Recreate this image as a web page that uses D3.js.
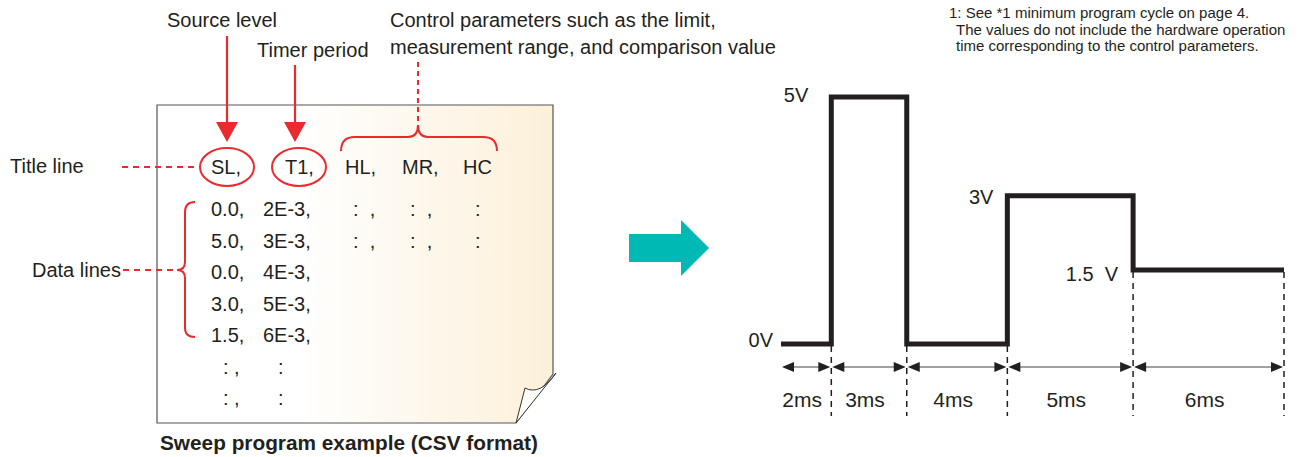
<!DOCTYPE html>
<html>
<head>
<meta charset="utf-8">
<script src="https://cdnjs.cloudflare.com/ajax/libs/d3/7.8.5/d3.min.js"></script>
<style>
  html, body { margin: 0; padding: 0; background: #fff; }
  svg { display: block; font-family: "Liberation Sans", Arial, sans-serif; }
</style>
</head>
<body>
<svg id="my_svg"></svg>
<script>
const width = 1302;
const height = 457;

// sweep program: source level (V) and timer period (ms) for each step
const levels = [0.0, 5.0, 0.0, 3.0, 1.5];
const periods = [2, 3, 4, 5, 6];
const levelLabels = ['0V', '5V', '', '3V', '1.5  V'];
const periodLabels = ['2ms', '3ms', '4ms', '5ms', '6ms'];
const headerCols = ['SL,', 'T1,', 'HL,', 'MR,', 'HC'];
const noteLines = [
  '1: See *1 minimum program cycle on page 4.',
  'The values do not include the hardware operation',
  'time corresponding to the control parameters.'
];

const red = '#ea2a2f';
const ink = '#231f20';

const svg = d3.select('#my_svg')
  .attr('width', width)
  .attr('height', height);

const defs = svg.append('defs');
const grad = defs.append('linearGradient').attr('id', 'paper');
grad.append('stop').attr('offset', '0%').attr('stop-color', '#ffffff');
grad.append('stop').attr('offset', '35%').attr('stop-color', '#ffffff');
grad.append('stop').attr('offset', '100%').attr('stop-color', '#fcf0d9');

// ---------- left: CSV sheet ----------
const left = svg.append('g');

left.append('path')
  .attr('d', 'M157,105 H553 V374 L516,423 H157 Z')
  .attr('fill', 'url(#paper)')
  .attr('stroke', '#555')
  .attr('stroke-width', 1.2);

// curled corner
left.append('path')
  .attr('d', 'M516,423 L525,388 Q540,396 556,373 Z')
  .attr('fill', '#fffdf8')
  .attr('stroke', '#333')
  .attr('stroke-width', 1);

// csv rows built from the data
const rowY = d3.scalePoint()
  .domain(d3.range(7))
  .range([209, 398]);

const fs = 20;
const hdrX = [211, 285, 345, 402, 463];
left.selectAll('text.hdr')
  .data(headerCols)
  .enter().append('text')
  .attr('class', 'hdr')
  .attr('x', (d, i) => hdrX[i])
  .attr('y', 167)
  .attr('dy', '0.35em')
  .attr('font-size', fs)
  .attr('fill', ink)
  .text(d => d);

const rows = levels.map((v, i) => [v.toFixed(1) + ',', periods[i] + 'E-3,']);
rows.forEach((r, i) => {
  left.append('text').attr('x', 211).attr('y', rowY(i)).attr('dy', '0.35em')
    .attr('font-size', fs).attr('fill', ink).text(r[0]);
  left.append('text').attr('x', 263).attr('y', rowY(i)).attr('dy', '0.35em')
    .attr('font-size', fs).attr('fill', ink).text(r[1]);
});
// continuation marks
[0, 1].forEach(i => {
  [[353, ':  ,'], [410, ':  ,'], [475, ':']].forEach(c => {
    left.append('text').attr('x', c[0]).attr('y', rowY(i)).attr('dy', '0.35em')
      .attr('font-size', fs).attr('fill', ink).style('white-space', 'pre').text(c[1]);
  });
});
[5, 6].forEach(i => {
  left.append('text').attr('x', 223).attr('y', rowY(i)).attr('dy', '0.35em')
    .attr('font-size', fs).attr('fill', ink).text(': ,');
  left.append('text').attr('x', 278).attr('y', rowY(i)).attr('dy', '0.35em')
    .attr('font-size', fs).attr('fill', ink).text(':');
});

// red ellipses around SL, T1
[[227, 167], [299, 167]].forEach(c => {
  left.append('ellipse')
    .attr('cx', c[0]).attr('cy', c[1])
    .attr('rx', 27).attr('ry', 19)
    .attr('fill', 'none').attr('stroke', red).attr('stroke-width', 2);
});

// red arrows from labels
[[227, 36], [295, 65]].forEach(a => {
  left.append('line')
    .attr('x1', a[0]).attr('x2', a[0])
    .attr('y1', a[1]).attr('y2', 126)
    .attr('stroke', red).attr('stroke-width', 2.2);
  left.append('path')
    .attr('d', `M${a[0] - 11},122 L${a[0] + 11},122 L${a[0]},142 Z`)
    .attr('fill', red);
});

// brace over HL, MR, HC
left.append('path')
  .attr('d', 'M341,151 Q341,137 355,137 H408 Q418,137 418,125 Q418,137 428,137 H483 Q497,137 497,151')
  .attr('fill', 'none').attr('stroke', red).attr('stroke-width', 2);
left.append('line')
  .attr('x1', 418).attr('x2', 418).attr('y1', 62).attr('y2', 124)
  .attr('stroke', red).attr('stroke-width', 2).attr('stroke-dasharray', '5,4');

// brace on data lines
left.append('path')
  .attr('d', 'M195,202 Q185,202 185,212 V262 Q185,270 177,270 Q185,270 185,278 V328 Q185,337 195,337')
  .attr('fill', 'none').attr('stroke', red).attr('stroke-width', 2);

// dashed leaders
left.append('line')
  .attr('x1', 122).attr('x2', 196).attr('y1', 167).attr('y2', 167)
  .attr('stroke', red).attr('stroke-width', 2).attr('stroke-dasharray', '6,5');
left.append('line')
  .attr('x1', 123).attr('x2', 176).attr('y1', 270).attr('y2', 270)
  .attr('stroke', red).attr('stroke-width', 2).attr('stroke-dasharray', '6,5');

// annotations
const ann = [
  [167, 20, 'Source level'],
  [257, 50, 'Timer period'],
  [390, 20, 'Control parameters such as the limit,'],
  [390, 47, 'measurement range, and comparison value'],
  [10, 166, 'Title line'],
  [32, 270, 'Data lines']
];
left.selectAll('text.ann')
  .data(ann)
  .enter().append('text')
  .attr('class', 'ann')
  .attr('x', d => d[0])
  .attr('y', d => d[1])
  .attr('dy', '0.35em')
  .attr('font-size', 20)
  .attr('fill', ink)
  .text(d => d[2]);

left.append('text')
  .attr('x', 160).attr('y', 443).attr('dy', '0.35em')
  .attr('font-size', 20.8).attr('font-weight', 'bold').attr('fill', ink)
  .text('Sweep program example (CSV format)');

// ---------- arrow ----------
svg.append('path')
  .attr('d', 'M629,234 H681 V220 L709,248 L681,276 V262 H629 Z')
  .attr('fill', '#00b9b5');

// ---------- right: waveform ----------
const edges = [0, ...d3.cumsum(periods)];
const x = d3.scaleLinear().domain([0, d3.sum(periods)]).range([781, 1284]);
const y = d3.scaleLinear().domain([0, 5]).range([344, 97]);

const pts = levels.map((v, i) => [edges[i], v]);
pts.push([edges[edges.length - 1], levels[levels.length - 1]]);

const wave = svg.append('g');

// dashed guides at each step boundary
edges.slice(1).forEach((t, i) => {
  const a = levels[i], b = levels[i + 1] !== undefined ? levels[i + 1] : levels[i];
  wave.append('line')
    .attr('x1', x(t)).attr('x2', x(t))
    .attr('y1', y(Math.min(a, b)) + 2).attr('y2', 416)
    .attr('stroke', ink).attr('stroke-width', 1.5)
    .attr('stroke-dasharray', '6,5');
});

wave.append('path')
  .datum(pts)
  .attr('d', d3.line().x(d => x(d[0])).y(d => y(d[1])).curve(d3.curveStepAfter))
  .attr('fill', 'none')
  .attr('stroke', ink)
  .attr('stroke-width', 5)
  .attr('stroke-linejoin', 'miter');

// level labels
const lblOff = [[-8, -4], [-23, -2], [0, 0], [-14, 1], [-15, 4]];
levels.forEach((v, i) => {
  if (!levelLabels[i]) return;
  wave.append('text')
    .attr('x', x(edges[i]) + lblOff[i][0])
    .attr('y', y(v) + lblOff[i][1])
    .attr('dy', '0.35em')
    .attr('text-anchor', 'end')
    .attr('font-size', 20)
    .attr('fill', ink)
    .style('white-space', 'pre')
    .text(levelLabels[i]);
});

// period dimension arrows
const ay = 367;
const head = (tip, dir) => `M${tip},${ay} L${tip - dir * 12},${ay - 5} L${tip - dir * 12},${ay + 5} Z`;
periods.forEach((p, i) => {
  const x0 = x(edges[i]), x1 = x(edges[i + 1]);
  wave.append('line')
    .attr('x1', x0 + 4).attr('x2', x1 - 4)
    .attr('y1', ay).attr('y2', ay)
    .attr('stroke', '#444').attr('stroke-width', 1.2);
  wave.append('path').attr('d', head(x0 + 1, -1)).attr('fill', ink);
  wave.append('path').attr('d', head(x1 - 1, 1)).attr('fill', ink);
  wave.append('text')
    .attr('x', (x0 + x1) / 2 - 4)
    .attr('y', 400)
    .attr('dy', '0.35em')
    .attr('text-anchor', 'middle')
    .attr('font-size', 21)
    .attr('fill', ink)
    .text(periodLabels[i]);
});

// footnote
svg.append('g').selectAll('text')
  .data(noteLines)
  .enter().append('text')
  .attr('x', (d, i) => i === 0 ? 949 : 956)
  .attr('y', (d, i) => 13 + i * 16.5)
  .attr('dy', '0.35em')
  .attr('font-size', 15)
  .attr('fill', ink)
  .text(d => d);
</script>
</body>
</html>
